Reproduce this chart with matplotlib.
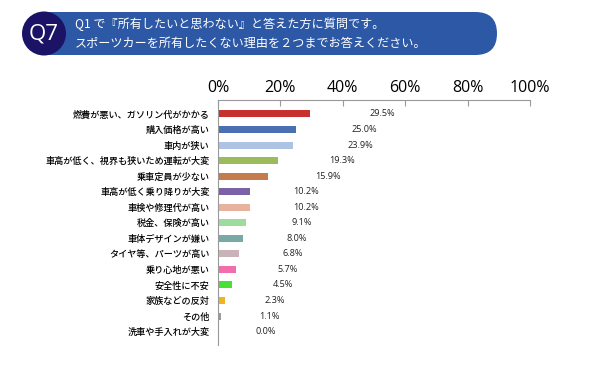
import matplotlib
matplotlib.use("Agg")
import matplotlib.pyplot as plt
from matplotlib.patches import FancyBboxPatch, Circle

plt.rcParams['font.family'] = ['Noto Sans CJK JP', 'DejaVu Sans']

categories = ["燃費が悪い、ガソリン代がかかる", "購入価格が高い", "車内が狭い",
              "車高が低く、視界も狭いため運転が大変", "乗車定員が少ない",
              "車高が低く乗り降りが大変", "車検や修理代が高い", "税金、保険が高い",
              "車体デザインが嫌い", "タイヤ等、パーツが高い", "乗り心地が悪い",
              "安全性に不安", "家族などの反対", "その他", "洗車や手入れが大変"]
values = [29.5, 25.0, 23.9, 19.3, 15.9, 10.2, 10.2, 9.1, 8.0, 6.8, 5.7, 4.5, 2.3, 1.1, 0.0]
colors = ["#C6302E", "#4A70B3", "#AEC3E4", "#9CBB5C", "#C47C4C", "#7B62A6", "#E8B39E",
          "#9EDC9E", "#78A9A6", "#C9B3B9", "#F26DAA", "#48E034", "#F0B422", "#9A9A9A", "#999999"]
xticks = [0, 20, 40, 60, 80, 100]
xticklabels = ["0%", "20%", "40%", "60%", "80%", "100%"]
title1 = "Q1 で『所有したいと思わない』と答えた方に質問です。"
title2 = "スポーツカーを所有したくない理由を２つまでお答えください。"

fig = plt.figure(figsize=(5.93, 3.74), dpi=100)
fig.patch.set_facecolor("white")

# header banner (pixel coordinates, y up)
H = 374
ax_c = fig.add_axes([0, 0, 1, 1], facecolor="none")
ax_c.set_xlim(0, 593); ax_c.set_ylim(0, H); ax_c.axis("off")
ax_c.add_patch(FancyBboxPatch((27, H - 55), 470, 43,
                              boxstyle="round,pad=0,rounding_size=21.5",
                              facecolor="#2D58A6", edgecolor="none", zorder=1))
ax_c.add_patch(Circle((44, H - 33.5), 22, facecolor="#1B1466", edgecolor="none", zorder=2))
ax_c.text(44, H - 34, "Q7", color="white", fontsize=16, ha="center", va="center",
          family=["Open Sans", "DejaVu Sans"], zorder=3)
ax_c.text(75, H - 24, title1, color="white", fontsize=8.7, va="center", zorder=3)
ax_c.text(75, H - 43, title2, color="white", fontsize=8.7, va="center", zorder=3)

ax = fig.add_axes([218/593, 1-345/374, (530-218)/593, (345-100)/374])
y = list(range(len(categories)))
ax.barh(y, values, height=0.45, color=colors)
ax.set_xlim(0, 100)
ax.set_ylim(14.86, -0.9)
ax.xaxis.tick_top()
ax.set_xticks(xticks)
ax.set_xticklabels(xticklabels, fontsize=11.5, family=["Open Sans", "DejaVu Sans"])
ax.tick_params(axis="x", direction="in", length=4, color="#999999", pad=3)
ax.set_yticks(y)
ax.set_yticklabels(categories, fontsize=6.6, fontweight="medium")
ax.tick_params(axis="y", length=0, pad=6)
for s in ["right", "bottom"]:
    ax.spines[s].set_visible(False)
for s in ["top", "left"]:
    ax.spines[s].set_color("#999999")
    ax.spines[s].set_linewidth(0.8)
for yi, v in zip(y, values):
    ax.text(15.2 + 1.27 * v, yi, f"{v:.1f}%", fontsize=6.6, ha="center", va="center",
            color="#222222", family=["Open Sans", "DejaVu Sans"])

fig.savefig("out.png", dpi=100)
